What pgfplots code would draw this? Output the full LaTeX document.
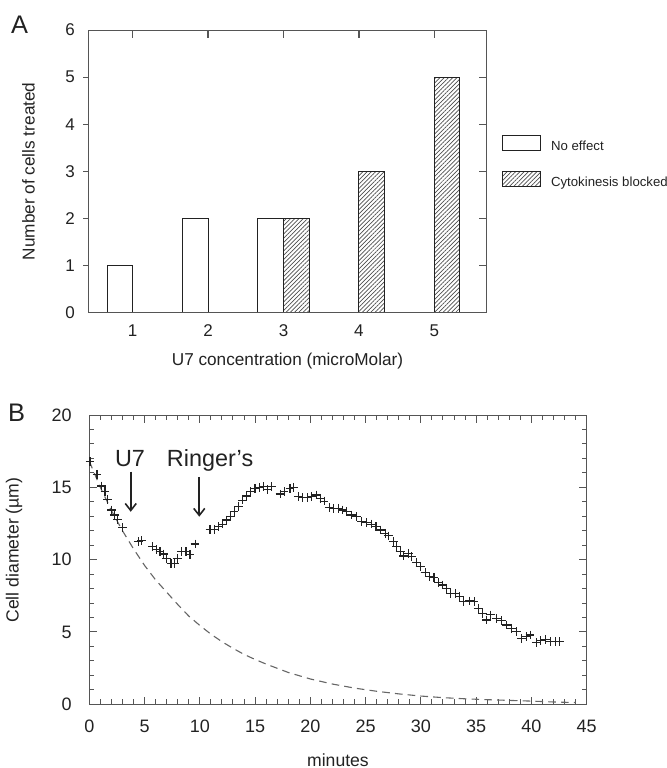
\documentclass[border=0pt]{standalone}
\usepackage{fontspec}
\setmainfont{Liberation Sans}
\usepackage{pgfplots}
\pgfplotsset{compat=1.18}
\usetikzlibrary{patterns.meta,arrows.meta}

\definecolor{axgray}{HTML}{555555}
\definecolor{ink}{HTML}{222222}

\pgfplotsset{
  panelA/.style={
    at={(44.15pt,227.65pt)}, anchor=south west,
    scale only axis, width=199.2pt, height=141.35pt,
    xmin=0.4115, xmax=5.6945, ymin=0, ymax=6,
    axis line style={axgray, line width=0.5pt},
  },
}

\begin{document}
\begin{tikzpicture}[x=1pt,y=1pt]
\path[use as bounding box] (0,0) rectangle (333,384);

% ---------- panel A: bars, box and labels (tick marks hidden)
\begin{axis}[
  panelA,
  xtick={1,2,3,4,5}, ytick={0,1,2,3,4,5,6},
  tick align=inside, major tick length=0pt,
  /pgf/number format/assume math mode=true,
  ticklabel style={font=\fontsize{8.5}{10}\selectfont, text=ink, inner sep=0pt},
  yticklabel style={anchor=east, xshift=-6.5pt},
  xticklabel style={anchor=base, yshift=-12pt},
  xlabel={U7 concentration (microMolar)},
  ylabel={Number of cells treated},
  label style={font=\fontsize{8.6}{10}\selectfont, text=ink, inner sep=0pt},
  xlabel style={at={(axis description cs:0.5,0)}, anchor=base, yshift=-26.15pt},
  ylabel style={at={(axis description cs:-0.150,0.5)}, anchor=center},
]
\addplot[ybar, bar width=0.34, bar shift=-0.17, draw=ink, fill=white, line width=0.5pt]
  coordinates {(1,1) (2,2) (3,2)};
\addplot[ybar, bar width=0.34, bar shift=0.17, draw=ink, line width=0.5pt,
  pattern={Lines[angle=45,distance=1.5pt,line width=0.35pt]}, pattern color=black!70]
  coordinates {(3,2) (4,3) (5,5)};
\end{axis}

% ---------- panel A: outward ticks on the left
\begin{axis}[
  panelA,
  xtick=\empty, ytick={1,2,3,4,5}, yticklabels={},
  ytick pos=left, tick align=outside, major tick length=2.5pt,
  major tick style={axgray, line width=0.6pt},
]
\addplot[draw=none] coordinates {(1,0)};
\end{axis}

% ---------- panel A: inward ticks on top and right
\begin{axis}[
  panelA,
  xtick={1,2,3,4,5}, ytick={1,2,3,4,5},
  xticklabels={}, yticklabels={},
  xtick pos=right, ytick pos=right,
  tick align=inside, major tick length=4pt,
  major tick style={axgray, line width=0.6pt},
]
\addplot[draw=none] coordinates {(1,0)};
\end{axis}

% legend of panel A
\draw[ink, line width=0.5pt, fill=white] (251.15,308.5) rectangle (270,316);
\draw[ink, line width=0.5pt, pattern={Lines[angle=45,distance=1.5pt,line width=0.35pt]}, pattern color=black!70]
  (251.15,290.65) rectangle (270,298.15);
\node[anchor=base west, inner sep=0pt, font=\fontsize{6.6}{8}\selectfont, text=ink] at (275.35,308.75) {No effect};
\node[anchor=base west, inner sep=0pt, font=\fontsize{6.6}{8}\selectfont, text=ink] at (275.35,290.9) {Cytokinesis blocked};

\node[anchor=base, inner sep=0pt, font=\fontsize{12.7}{14}\selectfont, text=ink] at (9.75,367.35) {A};
\node[anchor=base, inner sep=0pt, font=\fontsize{12.7}{14}\selectfont, text=ink] at (8.35,173.15) {B};

% ---------- panel B
\begin{axis}[
  at={(44.65pt,31.85pt)}, anchor=south west,
  scale only axis, width=248.7pt, height=144.65pt,
  xmin=0, xmax=45, ymin=0, ymax=20,
  xtick={0,5,...,45}, ytick={0,5,...,20},
  minor x tick num=4, minor y tick num=4,
  tick align=inside, tick pos=both,
  major tick length=3.85pt, minor tick length=2.5pt,
  clip=false,
  axis line style={axgray, line width=0.5pt},
  tick style={axgray, line width=0.5pt},
  /pgf/number format/assume math mode=true,
  ticklabel style={font=\fontsize{9}{10}\selectfont, text=ink, inner sep=0pt},
  yticklabel style={anchor=east, xshift=-8.6pt},
  xticklabel style={anchor=base, yshift=-14.1pt},
  xlabel={minutes},
  ylabel={Cell diameter (µm)},
  label style={font=\fontsize{8.8}{10}\selectfont, text=ink, inner sep=0pt},
  xlabel style={at={(axis description cs:0.5,0)}, anchor=base, yshift=-30.85pt},
  ylabel style={at={(axis description cs:-0.1514,0.533)}, anchor=center},
]
% dashed decay curve
\addplot[black!60, line width=0.55pt, dash pattern=on 3.8pt off 2.6pt] coordinates {
  (0,16.8) (1,15.0) (2,13.4) (3,12.0) (4,10.75) (5,9.6) (6,8.6) (7,7.75)
  (8,6.9) (9,6.1) (10,5.45) (11,4.85) (12,4.33) (13,3.87) (14,3.45)
  (15,3.1) (16,2.78) (18,2.2) (20,1.75) (22,1.4) (24,1.12) (26,0.9)
  (28,0.72) (30,0.57) (32,0.46) (34,0.38) (36,0.32) (38,0.27) (40,0.22)
  (42,0.16) (44,0.12)
};
% measured diameter
\addplot[only marks, mark=+, mark size=2.2pt, mark options={ink, line width=0.55pt}] coordinates {
  (0.06,16.77) (0.7,15.9) (1.12,15.09) (1.42,14.7) (1.66,14.17) (2.02,13.43)
  (2.27,13.09) (2.57,12.79) (3.02,12.24) (4.44,11.24) (4.74,11.3) (5.73,10.9)
  (6.1,10.72) (6.4,10.55) (6.7,10.39) (7.0,10.09) (7.39,9.75) (7.7,9.75)
  (8.0,10.09) (8.36,10.55) (8.75,10.55) (9.11,10.37) (9.57,11.08) (10.92,12.1)
  (11.29,12.1) (11.68,12.28) (12.07,12.46) (12.43,12.74) (12.8,12.97) (13.1,13.31)
  (13.5,13.7) (13.88,14.12) (14.24,14.4) (14.6,14.7) (14.99,14.93) (15.39,15.0)
  (15.75,15.05) (16.11,14.86) (16.5,15.05) (17.26,14.54) (17.62,14.7) (18.16,14.93)
  (18.46,15.0) (18.92,14.35) (19.3,14.28) (19.73,14.28) (20.13,14.35) (20.52,14.47)
  (20.88,14.24) (21.24,14.05) (21.7,13.62) (22.08,13.55) (22.54,13.55) (22.94,13.43)
  (23.29,13.31) (23.74,13.09) (24.2,12.97) (24.65,12.62) (25.1,12.55) (25.55,12.46)
  (25.94,12.28) (26.31,12.05) (26.76,11.82) (27.06,11.64) (27.51,11.24) (27.82,10.9)
  (28.12,10.55) (28.42,10.25) (28.87,10.44) (29.17,10.21) (29.63,9.79) (29.93,9.51)
  (30.38,9.1) (30.77,8.82) (31.19,8.78) (31.59,8.41) (31.98,8.25) (32.34,8.02)
  (32.7,7.67) (33.1,7.67) (33.49,7.44) (33.85,7.09) (34.39,7.14) (34.81,7.09)
  (35.2,6.64) (35.6,6.29) (35.96,5.83) (36.32,6.18) (36.87,5.95) (37.32,5.79)
  (37.77,5.48) (38.22,5.25) (38.67,5.02) (39.13,4.56) (39.52,4.68) (39.88,4.79)
  (40.43,4.26) (40.85,4.4) (41.24,4.49) (41.69,4.33) (42.15,4.33) (42.54,4.33)
};
\node[anchor=base, inner sep=0pt, font=\fontsize{11.7}{13}\selectfont, text=ink] at (axis cs:3.68,16.45) {U7};
\node[anchor=base, inner sep=0pt, font=\fontsize{11.7}{13}\selectfont, text=ink] at (axis cs:10.93,16.45) {Ringer's};
\draw[ink, line width=0.8pt, -{Straight Barb[length=3.5pt,width=5.5pt]}] (axis cs:3.75,16.08) -- (axis cs:3.75,13.31);
\draw[ink, line width=0.8pt, -{Straight Barb[length=3.5pt,width=5.5pt]}] (axis cs:9.95,15.73) -- (axis cs:9.95,12.97);
\end{axis}
\end{tikzpicture}
\end{document}
